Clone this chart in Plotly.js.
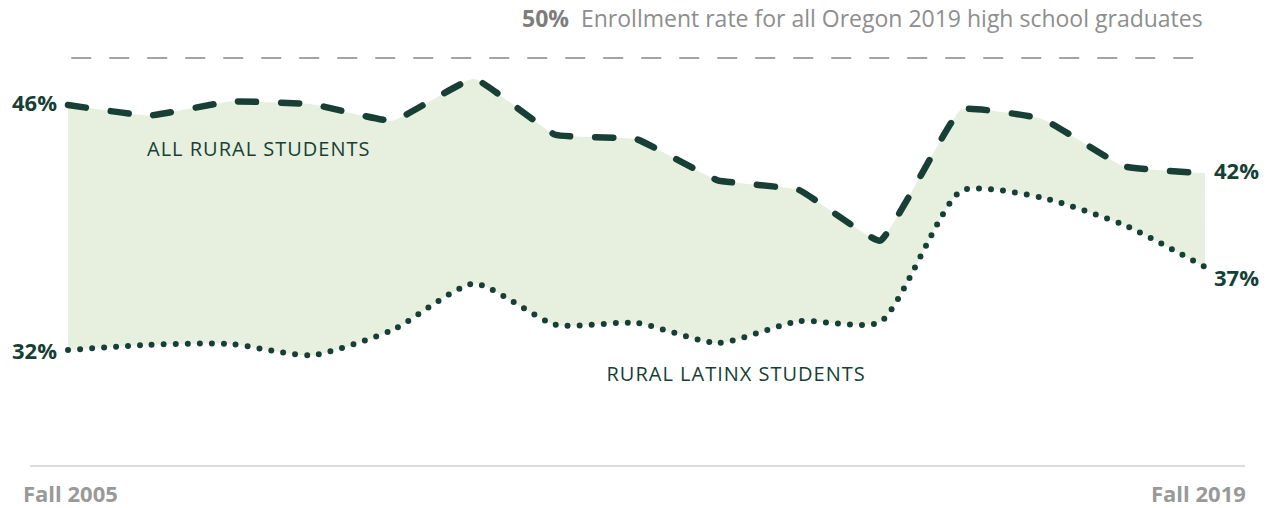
<!DOCTYPE html>
<html>
<head>
<meta charset="utf-8">
<script src="https://cdn.plot.ly/plotly-3.0.1.min.js"></script>
<style>
html,body{margin:0;padding:0;background:#fff;}
#chart{width:1271px;height:508px;}
.js-line{stroke-linecap:round;}
</style>
</head>
<body>
<div id="chart"></div>
<script>
const years = [2005,2006,2007,2008,2009,2010,2011,2012,2013,2014,2015,2016,2017,2018,2019];
const allRural = [46.0,45.4,46.2,46.05,45.1,47.5,44.3,44.05,41.7,41.15,38.25,45.75,45.2,42.5,42.1];
const latinx = [32.0,32.3,32.35,31.7,33.15,35.8,33.45,33.55,32.4,33.65,33.6,41.1,40.7,39.15,36.75];
const oregonRate = 50;
const firstLabel = 'Fall 2005';
const lastLabel = 'Fall 2019';

const green = '#173f35';
const fillGreen = '#e7f0df';
const gray = '#a3a3a3';
const textGray = '#8e8e8e';
const refLineY = 48.69;

const traces = [
  {x: years, y: latinx, mode: 'lines', line: {color: green, width: 6, dash: '0px,12px', shape: 'spline', smoothing: 0.6}, hoverinfo: 'skip', showlegend: false},
  {x: years, y: allRural, mode: 'lines', fill: 'tonexty', fillcolor: fillGreen, line: {color: green, width: 6.5, dash: '18px,25px', shape: 'spline', smoothing: 0.3}, hoverinfo: 'skip', showlegend: false}
];

const n = years.length;
const lblFont = {family: 'Open Sans, sans-serif', size: 22, color: green, weight: 700};
const annotations = [
  {x: years[0], y: allRural[0], xref: 'x', yref: 'y', text: '<b>' + Math.round(allRural[0]) + '%</b>', showarrow: false, xanchor: 'right', xshift: -9, yshift: 3, font: lblFont},
  {x: years[0], y: latinx[0], xref: 'x', yref: 'y', text: '<b>' + Math.round(latinx[0]) + '%</b>', showarrow: false, xanchor: 'right', xshift: -9, yshift: 0, font: lblFont},
  {x: years[n-1], y: allRural[n-1], xref: 'x', yref: 'y', text: '<b>' + Math.round(allRural[n-1]) + '%</b>', showarrow: false, xanchor: 'left', xshift: 7, yshift: 3, font: lblFont},
  {x: years[n-1], y: latinx[n-1], xref: 'x', yref: 'y', text: '<b>' + Math.round(latinx[n-1]) + '%</b>', showarrow: false, xanchor: 'left', xshift: 7, yshift: -10, font: lblFont},
  {x: 2007.35, y: 43.5, xref: 'x', yref: 'y', text: 'ALL RURAL STUDENTS', showarrow: false, font: {family: 'Open Sans, sans-serif', size: 20, color: green}},
  {x: 2013.23, y: 30.67, xref: 'x', yref: 'y', text: 'RURAL LATINX STUDENTS', showarrow: false, font: {family: 'Open Sans, sans-serif', size: 20, color: green}},
  {x: years[n-1], y: refLineY, xref: 'x', yref: 'y', yshift: 40, text: '<b><span style="color:#7d7d7d">' + oregonRate + '%</span></b>  Enrollment rate for all Oregon 2019 high school graduates', showarrow: false, xanchor: 'right', font: {family: 'Open Sans, sans-serif', size: 23, color: textGray}},
  {x: 0, y: 0, xref: 'paper', yref: 'paper', xanchor: 'left', yanchor: 'top', xshift: -9, yshift: -11, text: '<b>' + firstLabel + '</b>', showarrow: false, font: {family: 'Open Sans, sans-serif', size: 22, color: '#999999'}},
  {x: 1, y: 0, xref: 'paper', yref: 'paper', xanchor: 'right', yanchor: 'top', xshift: 3, yshift: -11, text: '<b>' + lastLabel + '</b>', showarrow: false, font: {family: 'Open Sans, sans-serif', size: 22, color: '#999999'}}
];

const layout = {
  width: 1271, height: 508,
  margin: {l: 30, r: 26, t: 20, b: 43},
  paper_bgcolor: '#fff', plot_bgcolor: '#fff',
  xaxis: {range: [2005 - 0.468, 2019 + 0.493], showgrid: false, zeroline: false, showticklabels: false, ticks: '', showline: true, linecolor: '#dcdcdc', linewidth: 2, fixedrange: true},
  yaxis: {range: [25.43, 50.86], showgrid: false, zeroline: false, showticklabels: false, ticks: '', showline: false, fixedrange: true},
  shapes: [
    {type: 'line', xref: 'x', yref: 'y', x0: years[0] + 0.04, x1: years[n-1], y0: refLineY, y1: refLineY, line: {color: gray, width: 2, dash: '20px,18px'}}
  ],
  annotations: annotations
};

Plotly.newPlot('chart', traces, layout, {displayModeBar: false, staticPlot: true}).then(function(){
  document.querySelectorAll('.annotation-text').forEach(function(el){
    if (/STUDENTS/.test(el.textContent)) el.style.letterSpacing = '1px';
  });
});
</script>
</body>
</html>
